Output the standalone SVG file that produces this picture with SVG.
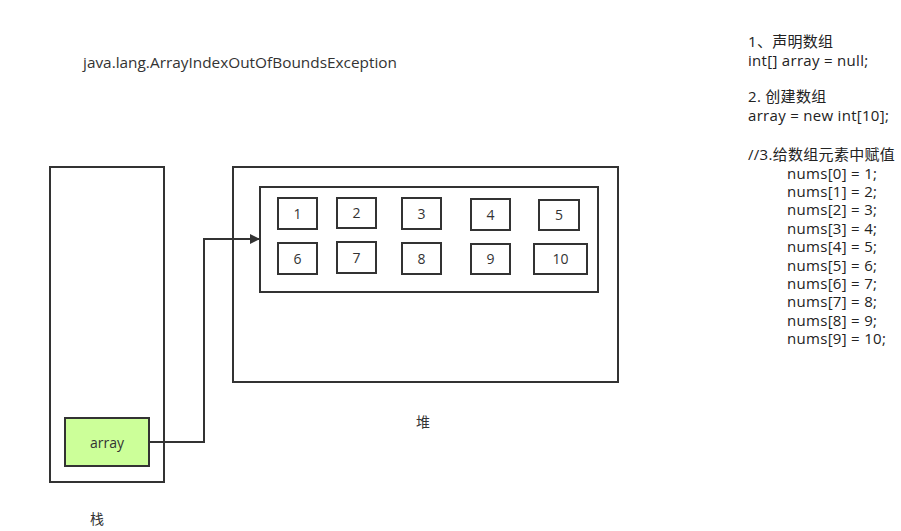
<svg xmlns="http://www.w3.org/2000/svg" width="901" height="531" viewBox="0 0 901 531">
<defs>
<style>
.box{fill:none;stroke:#333;stroke-width:2}
.cell{fill:#fff;stroke:#333;stroke-width:2}
.t{font-family:"Open Sans","Noto Sans CJK SC",sans-serif;font-size:14px;fill:#333}
.c{text-anchor:middle}
.code{font-family:"Open Sans","Noto Sans CJK SC",sans-serif;font-size:15px;letter-spacing:0.3px;fill:#222}
</style>
<marker id="arr" markerWidth="10" markerHeight="10" refX="9" refY="5" orient="auto" markerUnits="userSpaceOnUse">
<path d="M0,0 L10,5 L0,10 z" fill="#333"/>
</marker>
</defs>
<rect width="901" height="531" fill="#fff"/>
<text class="t" x="83" y="68" textLength="314" lengthAdjust="spacingAndGlyphs">java.lang.ArrayIndexOutOfBoundsException</text>

<g id="stack">
<rect class="box" x="50" y="167" width="114" height="315"/>
<text class="t c" x="97" y="524">栈</text>
</g>
<g id="array-var">
<rect x="65" y="418" width="84" height="48" fill="#ccff99" stroke="#333" stroke-width="2"/>
<text class="t c" x="107" y="448">array</text>
</g>
<g id="heap">
<rect class="box" x="233" y="167" width="385" height="215"/>
<text class="t c" x="423" y="427">堆</text>
</g>
<g id="array-obj">
<rect class="box" x="260" y="187" width="338" height="105"/>
</g>
<g id="cells">
<g id="c1"><rect class="cell" x="278" y="198" width="39" height="31"/><text class="t c" x="297.5" y="219">1</text></g>
<g id="c2"><rect class="cell" x="337" y="198" width="39" height="30"/><text class="t c" x="356.5" y="218">2</text></g>
<g id="c3"><rect class="cell" x="402" y="198" width="39" height="31"/><text class="t c" x="421.5" y="219">3</text></g>
<g id="c4"><rect class="cell" x="471" y="199" width="39" height="31"/><text class="t c" x="490.5" y="220">4</text></g>
<g id="c5"><rect class="cell" x="539" y="200" width="40" height="30"/><text class="t c" x="559" y="220">5</text></g>
<g id="c6"><rect class="cell" x="278" y="243" width="39" height="31"/><text class="t c" x="297.5" y="264">6</text></g>
<g id="c7"><rect class="cell" x="337" y="242" width="39" height="31"/><text class="t c" x="356.5" y="263">7</text></g>
<g id="c8"><rect class="cell" x="402" y="243" width="39" height="31"/><text class="t c" x="421.5" y="264">8</text></g>
<g id="c9"><rect class="cell" x="471" y="244" width="39" height="30"/><text class="t c" x="490.5" y="264">9</text></g>
<g id="c10"><rect class="cell" x="534" y="244" width="53" height="30"/><text class="t c" x="560.5" y="264">10</text></g>
</g>
<g id="connectors">
<path d="M149,442 H204 V239 H259" fill="none" stroke="#333" stroke-width="2" marker-end="url(#arr)"/>
</g>
<g id="code">
<text class="code" x="748" y="47">1、声明数组</text>
<text class="code" x="748" y="66">int[] array = null;</text>
<text class="code" x="748" y="102">2. 创建数组</text>
<text class="code" x="748" y="121">array = new int[10];</text>
<text class="code" x="748" y="160">//3.给数组元素中赋值</text>
<text class="code" x="787" y="178.5">nums[0] = 1;</text>
<text class="code" x="787" y="196.9">nums[1] = 2;</text>
<text class="code" x="787" y="215.3">nums[2] = 3;</text>
<text class="code" x="787" y="233.7">nums[3] = 4;</text>
<text class="code" x="787" y="252.1">nums[4] = 5;</text>
<text class="code" x="787" y="270.5">nums[5] = 6;</text>
<text class="code" x="787" y="288.9">nums[6] = 7;</text>
<text class="code" x="787" y="307.3">nums[7] = 8;</text>
<text class="code" x="787" y="325.7">nums[8] = 9;</text>
<text class="code" x="787" y="344.1">nums[9] = 10;</text>
</g>
</svg>
